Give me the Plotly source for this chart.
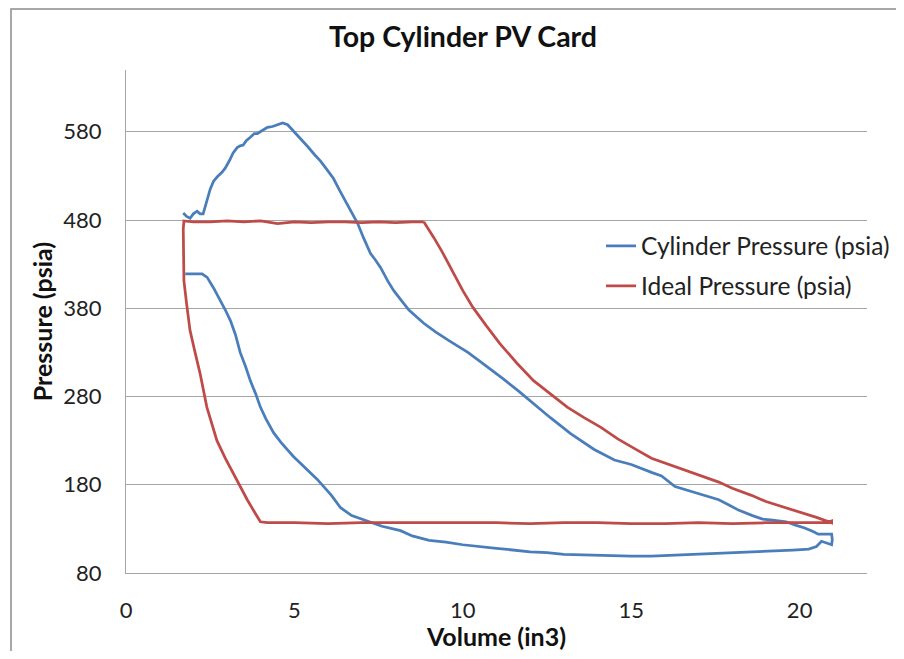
import plotly.graph_objects as go

# Cylinder Pressure (psia) vs Volume (in3)
cyl_vol = [1.70, 1.80, 1.90, 2.00, 2.11, 2.20, 2.29, 2.40, 2.50, 2.60, 2.71, 2.85, 2.95, 3.08, 3.18, 3.30,
           3.39, 3.48, 3.57, 3.70, 3.81, 3.90, 4.05, 4.20, 4.35, 4.50, 4.65, 4.80, 5.00, 5.18, 5.40, 5.60,
           5.77, 5.95, 6.16, 6.35, 6.58, 6.75, 6.88, 7.05, 7.26, 7.40, 7.56, 7.77, 7.95, 8.15, 8.40, 8.84,
           9.20, 9.60, 10.15, 10.50, 10.83, 11.20, 11.63, 12.10, 12.60, 13.20, 13.90, 14.50, 15.00, 15.60,
           15.90, 16.30, 17.00, 17.60, 17.90, 18.20, 18.60, 18.90, 19.20, 19.60, 19.90, 20.15, 20.40, 20.55,
           20.75, 20.95, 20.97, 20.95, 20.80, 20.65, 20.50, 20.27, 19.80, 19.20, 18.60, 17.60, 16.60, 15.60,
           15.00, 14.00, 13.00, 12.50, 12.00, 11.00, 10.00, 9.50, 9.00, 8.50, 8.15, 7.60, 7.17, 6.70, 6.37,
           6.10, 5.68, 5.30, 4.97, 4.60, 4.38, 4.15, 3.99, 3.85, 3.69, 3.55, 3.39, 3.25, 3.10, 2.95, 2.80,
           2.60, 2.41, 2.26, 2.00, 1.76]
cyl_pres = [488, 484, 482, 487, 490, 487, 487, 502, 515, 524, 529, 534, 539, 548, 556, 562,
            564, 565, 570, 574, 578, 578, 582, 585, 586, 588, 590, 588, 580, 573, 563, 554,
            547, 538, 527, 513, 497, 484, 476, 460, 442, 435, 426, 411, 400, 390, 378, 363,
            353, 343, 330, 320, 311, 300, 287, 272, 256, 238, 220, 208, 203, 194,
            190, 178, 170, 163, 157, 151, 145, 141, 140, 138, 134, 131, 127, 124,
            124, 124, 118, 112, 114, 116, 110, 107, 106, 105, 104, 103, 101, 99,
            99, 100, 101, 103, 104, 108, 112, 115, 117, 122, 128, 133, 139, 145, 154,
            168, 186, 200, 212, 228, 239, 255, 268, 283, 298, 314, 330, 350, 366, 378, 389,
            403, 415, 419, 419, 419]

# Ideal Pressure (psia) vs Volume (in3)
ideal_vol = [8.84, 8.50, 8.00, 7.50, 7.00, 6.50, 6.00, 5.50, 5.00, 4.50, 4.00, 3.50, 3.00, 2.50, 2.00, 1.72,
             1.70, 1.70, 1.72, 1.80, 1.90, 2.05, 2.20, 2.40, 2.55, 2.70, 2.95, 3.18, 3.40, 3.60, 3.80, 3.99,
             4.20, 5.00, 6.00, 7.00, 8.00, 9.00, 10.00, 11.00, 12.00, 13.00, 14.00, 15.00, 16.00, 17.00,
             18.00, 19.00, 20.00, 20.80, 20.95, 20.95,
             20.50, 20.00, 19.55, 19.00, 18.57, 18.00, 17.60, 17.00, 16.60, 16.00, 15.60, 15.10, 14.60,
             14.10, 13.60, 13.10, 12.60, 12.10, 11.60, 11.10, 10.70, 10.30, 10.00, 9.64, 9.40, 9.14, 8.95, 8.84]
ideal_pres = [478, 478, 477, 478, 477, 478, 478, 477, 478, 476, 479, 478, 479, 478, 478, 479,
              470, 440, 411, 385, 355, 330, 306, 268, 248, 230, 210, 193, 176, 163, 150, 138,
              137, 137, 136, 137, 137, 137, 137, 137, 136, 137, 137, 136, 136, 137,
              136, 137, 137, 137, 139, 137,
              143, 149, 155, 161, 168, 176, 183, 191, 197, 205, 210, 221, 232,
              245, 256, 268, 283, 298, 318, 340, 360, 381, 400, 426, 443, 460, 472, 478]

y_ticks = [80, 180, 280, 380, 480, 580]
x_ticks = [0, 5, 10, 15, 20]

FONT = "Lato, 'Open Sans', sans-serif"
GRID = "#A6A6A6"

fig = go.Figure()
fig.add_trace(go.Scatter(x=cyl_vol, y=cyl_pres, mode="lines", name="Cylinder Pressure (psia)",
                         line=dict(color="#4A7EBB", width=2.75), legendgroup="a"))
fig.add_trace(go.Scatter(x=ideal_vol, y=ideal_pres, mode="lines", name="Ideal Pressure (psia)",
                         line=dict(color="#BE4B48", width=2.75), legendgroup="b"))

W, H = 888, 643
L, T = 118, 62
R, B = W - 859, H - 565
pw, ph = W - L - R, H - T - B

fig.update_layout(
    width=W, height=H,
    margin=dict(l=L, r=R, t=T, b=B, pad=0, autoexpand=False),
    paper_bgcolor="white", plot_bgcolor="white",
    font=dict(family=FONT, color="#222222", size=22),
    title=dict(text="<b>Top Cylinder PV Card</b>", x=455 / W, xanchor="center",
               y=1 - 29 / H, yanchor="middle", font=dict(size=28.5, color="#111111")),
    showlegend=True,
    legend=dict(x=(593 - L) / pw, y=(565 - 258) / ph, xanchor="left", yanchor="middle",
                bgcolor="rgba(0,0,0,0)", font=dict(size=24.5), tracegroupgap=5, itemwidth=30),
    xaxis=dict(range=[0, 22], tickvals=x_ticks, showgrid=False, zeroline=False, automargin=True,
               showline=True, linecolor=GRID, linewidth=1.2, ticks="", ticklabelstandoff=17,
               title=dict(text="<b>Volume (in3)</b>", font=dict(size=25, color="#111111"), standoff=20)),
    yaxis=dict(range=[80, 650], tickvals=y_ticks, showgrid=True, gridcolor=GRID, gridwidth=1.2,
               zeroline=False, showline=True, linecolor=GRID, linewidth=1.2, ticks="", automargin=True,
               ticklabelstandoff=19,
               title=dict(text="<b>Pressure (psia)</b>", font=dict(size=25, color="#111111"), standoff=3)),
    shapes=[dict(type="rect", xref="paper", yref="paper",
                 x0=(3 - L) / pw, x1=(W + 40 - L) / pw,
                 y0=(565 - (H + 40)) / ph, y1=(565 - 1) / ph,
                 line=dict(color="#8C8C8C", width=1.5), layer="below")],
)

fig.write_html("out.html")
